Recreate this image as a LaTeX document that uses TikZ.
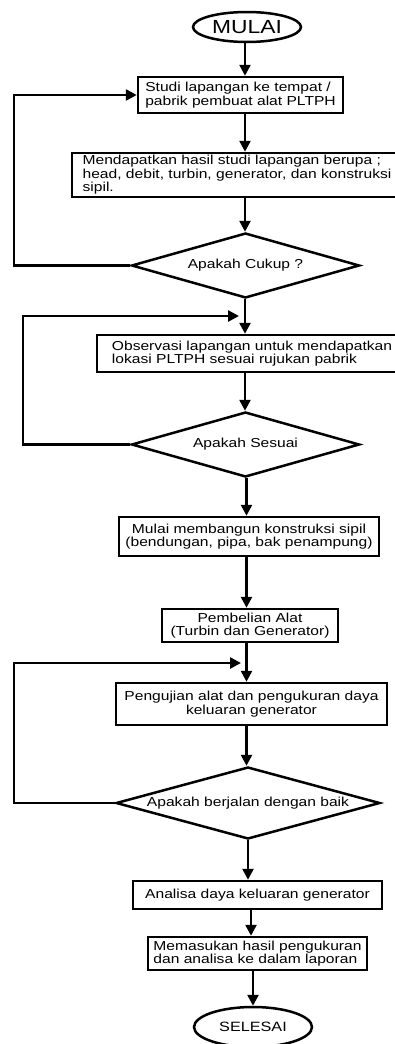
\documentclass[tikz,border=0pt]{standalone}
\usepackage{fontspec}
\setmainfont{Liberation Sans}[FakeStretch=1.2]
\usetikzlibrary{shapes.geometric,arrows.meta}
\begin{document}
\begin{tikzpicture}[x=1pt,y=-1pt,
  every node/.style={inner sep=0pt,line width=2.5pt,font=\fontsize{13}{13.6}\selectfont},
  procbox/.style={draw,rectangle,fill=white},
  decbox/.style={draw,diamond,fill=white},
  termbox/.style={draw,ellipse,fill=white},
  arr/.style={line width=2.5pt,-{Triangle[length=11pt,width=11pt]}},
  loopline/.style={line width=2.5pt,-{Triangle[length=11pt,width=11pt]}}]
\useasboundingbox (0,0) rectangle (395,1044);
\clip (0,0) rectangle (395,1044);
\fill[white] (0,0) rectangle (395,1044);

\node[termbox,minimum width=108pt,minimum height=30pt,font=\fontsize{19}{20}\selectfont] (e1) at (247,27) {MULAI};
\node[procbox,minimum width=205pt,minimum height=36pt,align=left] (b1) at (240.5,95) {Studi lapangan ke tempat /\\pabrik pembuat alat PLTPH};
\node[procbox,minimum width=330pt,minimum height=44pt,align=left] (b2) at (237,175) {Mendapatkan hasil studi lapangan berupa ;\\head, debit, turbin, generator, dan konstruksi\\sipil.};
\node[decbox,aspect=3.5,minimum width=228pt,minimum height=65pt] (d1) at (245.5,265.5) {Apakah Cukup ?};
\node[procbox,minimum width=310pt,minimum height=37pt,align=left] (b3) at (252,353.5) {Observasi lapangan untuk mendapatkan\\lokasi PLTPH sesuai rujukan pabrik};
\node[decbox,aspect=3.5,minimum width=228pt,minimum height=65pt] (d2) at (245.5,444.5) {Apakah Sesuai};
\node[procbox,minimum width=260pt,minimum height=39pt,align=center] (b4) at (249,536.5) {Mulai membangun konstruksi sipil\\(bendungan, pipa, bak penampung)};
\node[procbox,minimum width=176pt,minimum height=33pt,align=center] (b5) at (250,625.5) {Pembelian Alat\\(Turbin dan Generator)};
\node[procbox,minimum width=271pt,minimum height=42pt,align=center] (b6) at (251.5,704) {Pengujian alat dan pengukuran daya\\keluaran generator};
\node[decbox,aspect=3.67,minimum width=264pt,minimum height=72pt] (d3) at (248,803) {Apakah berjalan dengan baik};
\node[procbox,minimum width=249pt,minimum height=28pt,align=center] (b7) at (257.5,895) {Analisa daya keluaran generator};
\node[procbox,minimum width=219pt,minimum height=33pt,align=left] (b8) at (257.5,953.5) {Memasukan hasil pengukuran\\dan analisa ke dalam laporan};
\node[termbox,minimum width=118pt,minimum height=40pt,font=\fontsize{13.5}{14}\selectfont] (e2) at (253,1027) {SELESAI};

\coordinate (sa) at (245,0);
\coordinate (sb) at (246.5,0);
\coordinate (sc) at (248,0);
\coordinate (sd) at (251,0);
\coordinate (se) at (253,0);
\coordinate (la) at (14,0);
\coordinate (lb) at (23,0);
\coordinate (ja) at (239,316);
\coordinate (jb) at (241,663);

\draw[arr] (e1.south -| sa) -- (b1.north -| sa);
\draw[arr] (b1.south -| sa) -- (b2.north -| sa);
\draw[arr] (b2.south -| sa) -- (d1.north -| sa);
\draw[arr] (d1.south -| sa) -- (b3.north -| sa);
\draw[arr] (b3.south -| sa) -- (d2.north -| sa);
\draw[arr] (d2.south -| sb) -- (b4.north -| sb);
\draw[arr] (b4.south -| sb) -- (b5.north -| sb);
\draw[arr] (b5.south -| sb) -- (b6.north -| sb);
\draw[arr] (b6.south -| sb) -- (d3.north -| sb);
\draw[arr] (d3.south -| sc) -- (b7.north -| sc);
\draw[arr] (b7.south -| sd) -- (b8.north -| sd);
\draw[arr] (b8.south -| se) -- (e2.north -| se);

\draw[loopline] (d1.west) -- (d1.west -| la) |- (b1.west);
\draw[loopline] (d2.west) -- (d2.west -| lb) |- (ja);
\draw[loopline] (d3.west) -- (d3.west -| la) |- (jb);
\end{tikzpicture}
\end{document}
